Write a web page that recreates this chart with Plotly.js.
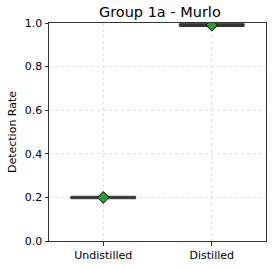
<!DOCTYPE html>
<html><head><meta charset="utf-8">
<script src="https://cdn.plot.ly/plotly-3.0.1.min.js"></script>
<style>html,body{margin:0;padding:0;background:#fff}#chart{width:278px;height:268px}</style>
</head><body><div id="chart"></div>
<script>
var categories = ["Undistilled", "Distilled"];
var lowerWhisker = [0.194, 0.984];
var q1 = [0.197, 0.988];
var medians = [0.2, 0.99];
var q3 = [0.202, 0.993];
var upperWhisker = [0.205, 0.997];
var means = [0.2, 0.99];
var yTicks = [0, 0.2, 0.4, 0.6, 0.8, 1.0];
var yTickLabels = ["0.0", "0.2", "0.4", "0.6", "0.8", "1.0"];

var traces = [{
  type: "box",
  x: categories,
  q1: q1, median: medians, q3: q3,
  lowerfence: lowerWhisker, upperfence: upperWhisker,
  width: 0.6, whiskerwidth: 1,
  fillcolor: "#9e9e9e",
  line: {color: "#333333", width: 1},
  boxpoints: false,
  hoverinfo: "skip",
  showlegend: false
}, {
  type: "scatter", mode: "markers",
  x: categories, y: means,
  marker: {symbol: "diamond", size: 9, color: "#2ca02c", line: {color: "#000", width: 1}},
  showlegend: false, hoverinfo: "skip"
}];

var layout = {
  width: 278, height: 268,
  margin: {l: 49, r: 12, t: 23, b: 27},
  paper_bgcolor: "#fff", plot_bgcolor: "#fff",
  font: {family: "DejaVu Sans", size: 11, color: "#000"},
  title: {text: "Group 1a - Murlo", font: {size: 14.5, family: "DejaVu Sans"}, x: 0.575, xanchor: "center", y: 0.975, yanchor: "top"},
  xaxis: {
    type: "category", range: [-0.5, 1.5],
    showgrid: true, gridcolor: "#cccccc", griddash: "dot", gridwidth: 0.6,
    showline: true, linecolor: "#333", linewidth: 1, mirror: true,
    ticks: "outside", ticklen: 3.5, tickcolor: "#333",
    tickfont: {size: 11}, zeroline: false, fixedrange: true
  },
  yaxis: {
    range: [0, 1], tickvals: yTicks, ticktext: yTickLabels,
    showgrid: true, gridcolor: "#cccccc", griddash: "dot", gridwidth: 0.6,
    showline: true, linecolor: "#333", linewidth: 1, mirror: true,
    ticks: "outside", ticklen: 3.5, tickcolor: "#333",
    tickfont: {size: 11}, zeroline: false,
    title: {text: "Detection Rate", font: {size: 11}, standoff: 5}
  }
};
Plotly.newPlot("chart", traces, layout, {staticPlot: true, displayModeBar: false});
</script></body></html>
